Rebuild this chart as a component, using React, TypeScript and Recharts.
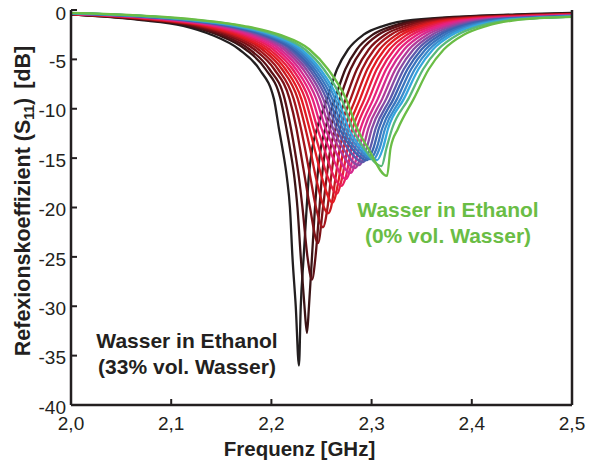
import React from 'react';
import { LineChart, Line, XAxis, YAxis } from 'recharts';

const levels = [-1, -1.6, -2.5, -4, -6, -9, -12, -14, -17, -20, -25, -30];

// resonance minimum of each curve (33% water -> 0% water)
const dipFreq = [2.2275, 2.2355, 2.2405, 2.2465, 2.2515, 2.2565, 2.261, 2.2655, 2.27, 2.2745, 2.279, 2.2835, 2.2875, 2.2915, 2.295, 2.2985, 2.302, 2.3055, 2.31, 2.3154];
const dipDepth = [-36.0, -32.7, -27.3, -23.6, -22.0, -20.6, -19.5, -18.6, -17.8, -17.1, -16.5, -16.0, -15.7, -15.4, -15.2, -15.1, -15.1, -15.2, -15.8, -16.8];

// left flank: frequency where the curve crosses each level
const leftCross = [
  [2.068, 2.112, 2.14, 2.168, 2.188, 2.2025, 2.2075, 2.211, 2.2155, 2.2185, 2.221, 2.2243],
  [2.0734, 2.1175, 2.1462, 2.1744, 2.1942, 2.2091, 2.215, 2.2185, 2.223, 2.226, 2.2293, 2.233],
  [2.0767, 2.1209, 2.1501, 2.1784, 2.1981, 2.2132, 2.2195, 2.223, 2.2275, 2.231, 2.236],
  [2.0807, 2.125, 2.1547, 2.1831, 2.2028, 2.2181, 2.225, 2.2285, 2.2335, 2.2385],
  [2.0841, 2.1284, 2.1586, 2.1871, 2.2067, 2.2222, 2.2295, 2.2335, 2.239, 2.2445],
  [2.0875, 2.1318, 2.1624, 2.1911, 2.2106, 2.2263, 2.234, 2.2385, 2.2445, 2.2525],
  [2.0905, 2.1349, 2.1659, 2.1947, 2.2141, 2.2299, 2.238, 2.243, 2.2505],
  [2.0935, 2.138, 2.1694, 2.1983, 2.2177, 2.2337, 2.242, 2.2475, 2.2565],
  [2.0966, 2.141, 2.1729, 2.2019, 2.2212, 2.2373, 2.246, 2.2525, 2.263],
  [2.0996, 2.1441, 2.1764, 2.2055, 2.2246, 2.241, 2.25, 2.2575],
  [2.1026, 2.1472, 2.1798, 2.209, 2.2281, 2.2447, 2.254, 2.2625],
  [2.1056, 2.1502, 2.1833, 2.2126, 2.2316, 2.2484, 2.258, 2.2675],
  [2.1083, 2.153, 2.1864, 2.2158, 2.2348, 2.2517, 2.2615, 2.2715],
  [2.111, 2.1557, 2.1895, 2.219, 2.2379, 2.2549, 2.265, 2.276],
  [2.1133, 2.1581, 2.1922, 2.2218, 2.2406, 2.2578, 2.268, 2.28],
  [2.1157, 2.1605, 2.1949, 2.2246, 2.2433, 2.2607, 2.271, 2.2835],
  [2.118, 2.1629, 2.1977, 2.2274, 2.2461, 2.2636, 2.274, 2.287],
  [2.1203, 2.1652, 2.2003, 2.2301, 2.2488, 2.2664, 2.277, 2.29],
  [2.1234, 2.1683, 2.2039, 2.2337, 2.2523, 2.2701, 2.281, 2.2925],
  [2.127, 2.172, 2.208, 2.238, 2.2565, 2.2745, 2.2855, 2.2965],
];

// right flank: frequency where the curve crosses each level
const rightCross = [
  [2.341, 2.312, 2.292, 2.2765, 2.2655, 2.2555, 2.2455, 2.2408, 2.2372, 2.2352, 2.2322, 2.2293],
  [2.3506, 2.3214, 2.3011, 2.2852, 2.2738, 2.2634, 2.2538, 2.2493, 2.2458, 2.2435, 2.2405, 2.2375],
  [2.3565, 2.3272, 2.3068, 2.2906, 2.279, 2.2683, 2.2587, 2.254, 2.2503, 2.248, 2.244],
  [2.3637, 2.3342, 2.3136, 2.2971, 2.2853, 2.2742, 2.264, 2.259, 2.255, 2.2515],
  [2.3697, 2.3401, 2.3193, 2.3026, 2.2905, 2.2791, 2.2685, 2.2635, 2.2595, 2.256],
  [2.3757, 2.346, 2.325, 2.308, 2.2957, 2.284, 2.273, 2.2683, 2.264, 2.2595],
  [2.381, 2.3512, 2.3301, 2.3129, 2.3004, 2.2885, 2.277, 2.272, 2.2675],
  [2.3865, 2.3566, 2.3353, 2.3179, 2.3051, 2.293, 2.281, 2.276, 2.2705],
  [2.3918, 2.3619, 2.3404, 2.3227, 2.3098, 2.2974, 2.285, 2.2798, 2.274],
  [2.3972, 2.3671, 2.3455, 2.3276, 2.3145, 2.3018, 2.289, 2.2835],
  [2.4025, 2.3724, 2.3506, 2.3325, 2.3191, 2.3062, 2.2928, 2.2875],
  [2.4079, 2.3776, 2.3557, 2.3373, 2.3238, 2.3106, 2.2967, 2.2915],
  [2.4127, 2.3823, 2.3603, 2.3417, 2.328, 2.3146, 2.3003, 2.295],
  [2.4174, 2.387, 2.3648, 2.346, 2.3321, 2.3185, 2.304, 2.2985],
  [2.4216, 2.3911, 2.3688, 2.3498, 2.3358, 2.3219, 2.3072, 2.3018],
  [2.4258, 2.3952, 2.3728, 2.3537, 2.3394, 2.3254, 2.3105, 2.305],
  [2.43, 2.3993, 2.3768, 2.3575, 2.3431, 2.3289, 2.3135, 2.308],
  [2.4341, 2.4034, 2.3807, 2.3612, 2.3467, 2.3322, 2.3165, 2.3113],
  [2.4396, 2.4087, 2.3859, 2.3662, 2.3514, 2.3367, 2.3205, 2.3148],
  [2.446, 2.415, 2.392, 2.372, 2.357, 2.342, 2.3264, 2.3189],
];

// values at the edges of the band (2,0 / 2,46 / 2,5 GHz)
const startDb = [-0.45, -0.44, -0.43, -0.42, -0.41, -0.4, -0.39, -0.385, -0.375, -0.37, -0.36, -0.355, -0.35, -0.34, -0.335, -0.33, -0.32, -0.315, -0.31, -0.3];
const nearEndDb = [-0.4, -0.44, -0.47, -0.5, -0.53, -0.56, -0.58, -0.61, -0.63, -0.66, -0.68, -0.71, -0.73, -0.75, -0.77, -0.79, -0.81, -0.83, -0.86, -0.88];
const endDb = [-0.3, -0.34, -0.36, -0.39, -0.41, -0.43, -0.45, -0.47, -0.49, -0.51, -0.53, -0.55, -0.57, -0.59, -0.61, -0.62, -0.64, -0.66, -0.68, -0.7];

const colors = [
  '#231f20', '#3b1416', '#5c1116', '#7d1217', '#a3161c', '#c8191f', '#e31b23', '#e61e3c', '#e91f5c', '#e8227c',
  '#d52b8e', '#b23a99', '#8a4aa2', '#5d5aab', '#3c63b0', '#3a75bd', '#3a8ccd', '#36a6dc', '#58b87a', '#6abd45',
];

const xTicks = [2.0, 2.1, 2.2, 2.3, 2.4, 2.5];
const yTicks = [-40, -35, -30, -25, -20, -15, -10, -5, 0];

const FONT = '"Liberation Sans", Arial, sans-serif';
const INK = '#231f20';
const GREEN = '#6abd45';

const curves = dipFreq.map((f0, i) => {
  const pts: { f: number; db: number }[] = [{ f: 2.0, db: startDb[i] }];
  leftCross[i].forEach((f, k) => pts.push({ f, db: levels[k] }));
  pts.push({ f: f0, db: dipDepth[i] });
  for (let k = rightCross[i].length - 1; k >= 0; k--) pts.push({ f: rightCross[i][k], db: levels[k] });
  pts.push({ f: 2.46, db: nearEndDb[i] }, { f: 2.5, db: endDb[i] });
  return pts;
});

const fmt = (v: number) => v.toFixed(1).replace('.', ',');

const YTitle = () => (
  <text
    transform="translate(30,201) rotate(-90)"
    textAnchor="middle"
    fontFamily={FONT}
    fontWeight="bold"
    fontSize={21.5}
    fill={INK}
  >
    Refexionskoeffizient (S<tspan dy={4} fontSize={14}>11</tspan>
    <tspan dy={-4}>)</tspan>
    <tspan dx={9}>[dB]</tspan>
  </text>
);

const note = (left: number, top: number, color: string, lines: string[]) => (
  <div
    style={{
      position: 'absolute',
      left: left - 120,
      top,
      width: 240,
      textAlign: 'center',
      fontFamily: FONT,
      fontWeight: 'bold',
      fontSize: 21,
      lineHeight: '26px',
      color,
      whiteSpace: 'nowrap',
    }}
  >
    {lines.map((l) => (
      <div key={l}>{l}</div>
    ))}
  </div>
);

export default function App() {
  const tick = { fill: INK, fontSize: 19, fontFamily: FONT };
  return (
    <div style={{ position: 'absolute', left: 0, top: 0, width: 590, height: 466, background: '#fff' }}>
      <LineChart width={590} height={466} margin={{ top: 10, right: 17, bottom: 0, left: 0 }}>
        <XAxis
          dataKey="f"
          type="number"
          domain={[2.0, 2.5]}
          ticks={xTicks}
          tickFormatter={fmt}
          allowDataOverflow
          height={61}
          tick={tick}
          tickSize={-6}
          tickMargin={18}
          axisLine={{ stroke: INK, strokeWidth: 2.5 }}
          tickLine={{ stroke: INK, strokeWidth: 2 }}
          label={{ value: 'Frequenz [GHz]', position: 'insideBottom', dx: -22, dy: -5, fill: INK, fontSize: 20.5, fontWeight: 'bold', fontFamily: FONT }}
        />
        <XAxis
          xAxisId="top"
          orientation="top"
          type="number"
          domain={[2.0, 2.5]}
          ticks={xTicks}
          tickFormatter={() => ''}
          height={0}
          tickSize={-6}
          axisLine={{ stroke: INK, strokeWidth: 2.5 }}
          tickLine={{ stroke: INK, strokeWidth: 2 }}
        />
        <YAxis
          type="number"
          domain={[-40, 0]}
          ticks={yTicks}
          allowDataOverflow
          width={71}
          tick={{ ...tick, dy: 2 }}
          tickSize={-6}
          tickMargin={11}
          axisLine={{ stroke: INK, strokeWidth: 2.5 }}
          tickLine={{ stroke: INK, strokeWidth: 2 }}
          label={{ content: () => <YTitle /> }}
        />
        <YAxis
          yAxisId="right"
          orientation="right"
          type="number"
          domain={[-40, 0]}
          ticks={yTicks}
          tickFormatter={() => ''}
          width={1}
          tickSize={-6}
          axisLine={{ stroke: INK, strokeWidth: 2.5 }}
          tickLine={{ stroke: INK, strokeWidth: 2 }}
        />
        {curves.map((pts, i) => (
          <Line
            key={i}
            data={pts}
            dataKey="db"
            type="monotone"
            stroke={colors[i]}
            strokeWidth={2.3}
            dot={false}
            activeDot={false}
            isAnimationActive={false}
          />
        ))}
      </LineChart>
      {note(448, 197, GREEN, ['Wasser in Ethanol', '(0% vol. Wasser)'])}
      {note(187, 328, INK, ['Wasser in Ethanol', '(33% vol. Wasser)'])}
    </div>
  );
}
